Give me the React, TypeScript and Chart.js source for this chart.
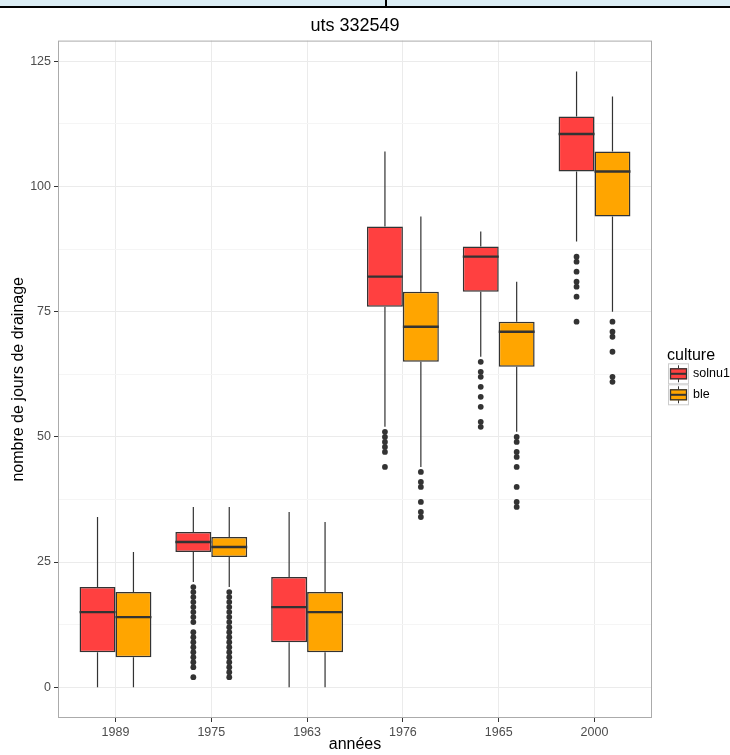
import React, { useEffect, useRef } from 'react';
import { Chart, registerables } from 'chart.js';

Chart.register(...registerables);

// ---- data ----
const years = ['1989', '1975', '1963', '1976', '1965', '2000'];
const seriesNames = ['solnu1', 'ble'];
const seriesColors = ['#FF4040', '#FFA500'];

const solnu1Min = [0, 21, 0, 52, 66, 89];
const solnu1Q1 = [7, 27, 9, 76, 79, 103];
const solnu1Median = [15, 29, 16, 82, 86, 110.5];
const solnu1Q3 = [20, 31, 22, 92, 88, 114];
const solnu1Max = [34, 36, 35, 107, 91, 123];
const solnu1Outliers = [
  [],
  [20, 19, 18, 17, 16, 15, 14, 13, 11, 10, 9, 8, 7, 6, 5, 4, 2],
  [],
  [51, 50, 49, 48, 47, 44],
  [65, 63, 62, 60, 58, 56, 53, 52],
  [86, 85, 83, 81, 80, 78, 73],
];

const bleMin = [0, 20, 0, 44, 51, 75];
const bleQ1 = [6, 26, 7, 65, 64, 94];
const bleMedian = [14, 28, 15, 72, 71, 103];
const bleQ3 = [19, 30, 19, 79, 73, 107];
const bleMax = [27, 36, 33, 94, 81, 118];
const bleOutliers = [
  [],
  [19, 18, 17, 16, 15, 14, 13, 12, 11, 10, 9, 8, 7, 6, 5, 4, 3, 2],
  [],
  [43, 41, 40, 37, 35, 34],
  [50, 49, 47, 46, 44, 40, 37, 36],
  [73, 71, 70, 67, 62, 61],
];

const yMajorTicks = [0, 25, 50, 75, 100, 125];
const yMinorTicks = [12.5, 37.5, 62.5, 87.5, 112.5];

const titleText = 'uts 332549';
const xTitle = 'années';
const yTitle = 'nombre de jours de drainage';
const legendTitle = 'culture';

const series = [
  { min: solnu1Min, q1: solnu1Q1, med: solnu1Median, q3: solnu1Q3, max: solnu1Max, out: solnu1Outliers },
  { min: bleMin, q1: bleQ1, med: bleMedian, q3: bleQ3, max: bleMax, out: bleOutliers },
];

const FONT = "'Liberation Sans', Arial, Helvetica, sans-serif";
const DARK = '#333333';

const boxPlugin = {
  id: 'boxExtras',
  beforeDatasetsDraw(chart: any) {
    const { ctx } = chart;
    const y = chart.scales.y;
    ctx.save();
    ctx.strokeStyle = DARK;
    ctx.lineWidth = 1.2;
    series.forEach((s, di) => {
      const meta = chart.getDatasetMeta(di);
      meta.data.forEach((bar: any, i: number) => {
        const x = bar.x;
        ctx.beginPath();
        ctx.moveTo(x, y.getPixelForValue(s.max[i]));
        ctx.lineTo(x, y.getPixelForValue(s.q3[i]));
        ctx.moveTo(x, y.getPixelForValue(s.q1[i]));
        ctx.lineTo(x, y.getPixelForValue(s.min[i]));
        ctx.stroke();
      });
    });
    ctx.restore();
  },
  afterDatasetsDraw(chart: any) {
    const { ctx } = chart;
    const y = chart.scales.y;
    ctx.save();
    series.forEach((s, di) => {
      const meta = chart.getDatasetMeta(di);
      meta.data.forEach((bar: any, i: number) => {
        const x = bar.x;
        const w = bar.width;
        ctx.strokeStyle = DARK;
        ctx.lineWidth = 2.4;
        ctx.beginPath();
        const ym = y.getPixelForValue(s.med[i]);
        ctx.moveTo(x - w / 2, ym);
        ctx.lineTo(x + w / 2, ym);
        ctx.stroke();
        ctx.fillStyle = DARK;
        s.out[i].forEach((v: number) => {
          ctx.beginPath();
          ctx.arc(x, y.getPixelForValue(v), 2.9, 0, Math.PI * 2);
          ctx.fill();
        });
      });
    });
    ctx.restore();
  },
  afterDraw(chart: any) {
    const { ctx, chartArea } = chart;
    const { left, right, top, bottom } = chartArea;
    ctx.save();
    // panel border
    ctx.strokeStyle = '#ababab';
    ctx.lineWidth = 1;
    ctx.strokeRect(left + 0.5, top + 0.5, right - left - 1, bottom - top - 1);

    // legend
    const cy = (top + bottom) / 2;
    const lx = right + 16;
    ctx.fillStyle = '#000000';
    ctx.font = `16px ${FONT}`;
    ctx.textAlign = 'left';
    ctx.textBaseline = 'middle';
    ctx.fillText(legendTitle, lx - 1, cy - 24);
    const ks = 21;
    seriesNames.forEach((name, i) => {
      const kt = cy - 16 + i * ks;
      ctx.fillStyle = '#ffffff';
      ctx.fillRect(lx, kt, ks, ks);
      ctx.strokeStyle = '#cccccc';
      ctx.lineWidth = 1;
      ctx.strokeRect(lx + 0.5, kt + 0.5, ks - 1, ks - 1);
      const cx = lx + ks / 2;
      ctx.strokeStyle = DARK;
      ctx.beginPath();
      ctx.moveTo(cx, kt + 2);
      ctx.lineTo(cx, kt + ks - 2);
      ctx.stroke();
      ctx.fillStyle = seriesColors[i];
      ctx.fillRect(lx + 2, kt + 5, ks - 4, ks - 10);
      ctx.lineWidth = 1.3;
      ctx.strokeRect(lx + 2.5, kt + 5.5, ks - 5, ks - 11);
      ctx.lineWidth = 2;
      ctx.beginPath();
      ctx.moveTo(lx + 2, kt + ks / 2);
      ctx.lineTo(lx + ks - 2, kt + ks / 2);
      ctx.stroke();
      ctx.fillStyle = '#000000';
      ctx.font = `12.5px ${FONT}`;
      ctx.fillText(name, lx + ks + 4, kt + ks / 2);
    });
    ctx.restore();
  },
};

export default function App() {
  const canvasRef = useRef<HTMLCanvasElement | null>(null);

  useEffect(() => {
    const canvas = canvasRef.current;
    if (!canvas) return;
    const chart = new Chart(canvas, {
      type: 'bar',
      data: {
        datasets: seriesNames.map((name, di) => ({
          label: name,
          data: years.map((_, i) => ({ x: i, y: [series[di].q1[i], series[di].q3[i]] })),
          backgroundColor: seriesColors[di],
          borderColor: DARK,
          borderWidth: 1.5,
          borderSkipped: false,
          categoryPercentage: 0.75,
          barPercentage: 1,
        })) as any,
      },
      options: {
        animation: false,
        responsive: false,
        events: [],
        layout: { padding: { left: 0, right: 78, top: 0, bottom: 0 } },
        plugins: {
          legend: { display: false },
          tooltip: { enabled: false },
          title: {
            display: true,
            text: titleText,
            fullSize: false,
            color: '#000000',
            font: { family: FONT, size: 18, weight: 'normal' },
            padding: { top: 15, bottom: 4 },
          },
        },
        scales: {
          x: {
            type: 'linear',
            offset: false,
            min: -0.6,
            max: years.length - 0.4,
            afterBuildTicks: (scale: any) => {
              scale.ticks = years.map((_, i) => ({ value: i }));
            },
            afterFit: (scale: any) => {
              scale.height = 37;
            },
            ticks: {
              autoSkip: false,
              maxRotation: 0,
              padding: 3,
              color: '#4d4d4d',
              font: { family: FONT, size: 12.5 },
              callback: (v: any) => years[Math.round(Number(v))] ?? '',
            },
            grid: {
              offset: false,
              color: '#ebebeb',
              lineWidth: 1,
              tickColor: DARK,
              tickLength: 4,
            },
            border: { display: false },
            title: {
              display: true,
              text: xTitle,
              color: '#000000',
              font: { family: FONT, size: 16 },
              padding: { top: 0, bottom: 1 },
            },
          },
          y: {
            type: 'linear',
            min: -6.15,
            max: 129.15,
            afterBuildTicks: (scale: any) => {
              scale.ticks = [...yMajorTicks, ...yMinorTicks]
                .sort((a, b) => a - b)
                .map((v) => ({ value: v }));
            },
            afterFit: (scale: any) => {
              scale.width = 58;
            },
            ticks: {
              autoSkip: false,
              padding: 3,
              color: '#4d4d4d',
              font: { family: FONT, size: 12.5 },
              callback: (v: any) => (yMajorTicks.includes(Number(v)) ? String(v) : ''),
            },
            grid: {
              color: (c: any) => (yMajorTicks.includes(c.tick?.value) ? '#ebebeb' : '#f5f5f5'),
              lineWidth: 1,
              tickColor: (c: any) => (yMajorTicks.includes(c.tick?.value) ? DARK : 'rgba(0,0,0,0)'),
              tickLength: 4,
            },
            border: { display: false },
            title: {
              display: true,
              text: yTitle,
              color: '#000000',
              font: { family: FONT, size: 16 },
              padding: { top: 9, bottom: 0 },
            },
          },
        },
      } as any,
      plugins: [boxPlugin],
    });
    return () => chart.destroy();
  }, []);

  return (
    <div style={{ position: 'absolute', left: 0, top: 0, width: 730, height: 755, background: '#ffffff', overflow: 'hidden' }}>
      <canvas ref={canvasRef} width={730} height={755} style={{ display: 'block', width: 730, height: 755 }} />
      <div style={{ position: 'absolute', left: 0, top: 0, width: 730, height: 6, background: '#dbedf4' }} />
      <div style={{ position: 'absolute', left: 0, top: 6, width: 730, height: 2, background: '#000000' }} />
      <div style={{ position: 'absolute', left: 385, top: 0, width: 2, height: 6, background: '#000000' }} />
    </div>
  );
}
